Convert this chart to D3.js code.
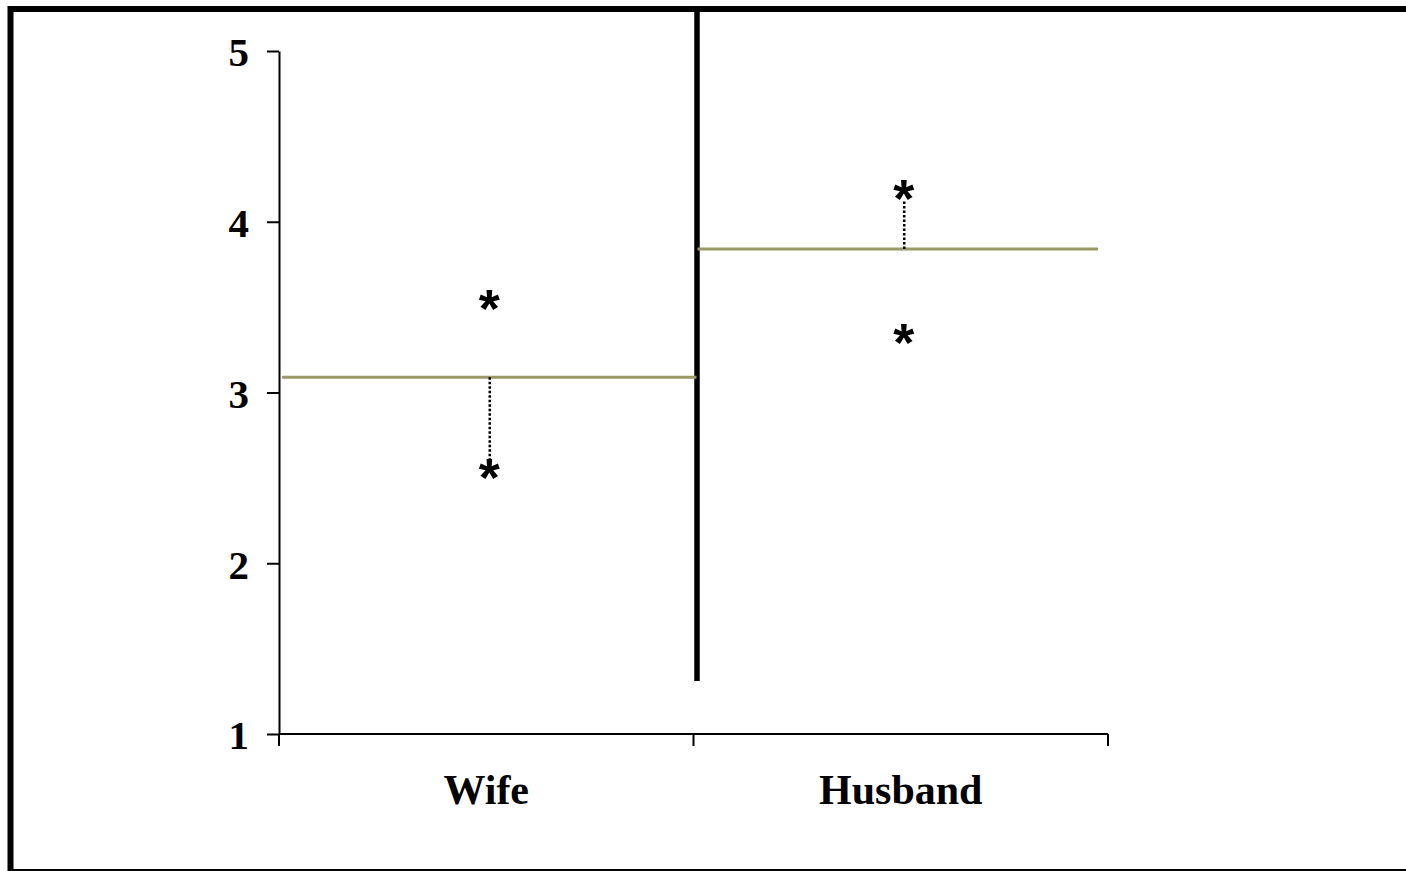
<!DOCTYPE html>
<html>
<head>
<meta charset="utf-8">
<script src="https://cdn.jsdelivr.net/npm/d3@7"></script>
<style>
  body { margin: 0; background: #fff; }
  text { font-family: 'Liberation Serif', 'Times New Roman', serif; font-weight: bold; }
</style>
</head>
<body>
<div id="chart-area"></div>
<script>
    // data
    var categories = ['Wife', 'Husband'];
    var meanValues = [3.09, 3.84];
    var upperStars = [3.55, 4.19];
    var lowerStars = [2.56, 3.35];
    var dottedTo = [2.6, 4.12];   // dotted line runs from the mean to this value
    var yTicks = [1, 2, 3, 4, 5];
    var dividerBottom = 1.31;

    var width = 1406;
    var height = 871;
    var margin = { left: 279, right: 298, top: 51, bottom: 137 };

    var svg = d3.select('#chart-area')
        .append('svg')
        .attr('width', width)
        .attr('height', height);

    // outer frame, runs off the right and bottom edges
    svg.append('rect')
        .attr('x', 10.5)
        .attr('y', 9)
        .attr('width', 1600)
        .attr('height', 863)
        .attr('fill', 'none')
        .attr('stroke', '#000')
        .attr('stroke-width', 6);

    var xScale = d3.scaleBand()
        .domain(categories)
        .range([margin.left, width - margin.right]);

    var yScale = d3.scaleLinear()
        .domain([1, 5])
        .range([height - margin.bottom, margin.top]);

    var g = svg.append('g');

    // y axis
    var yAxisCall = d3.axisLeft(yScale)
        .tickValues(yTicks)
        .tickSize(12)
        .tickSizeOuter(0)
        .tickPadding(18)
        .tickFormat(d3.format('d'));
    var yAxis = g.append('g')
        .attr('class', 'y axis')
        .attr('transform', `translate(${margin.left},0)`)
        .call(yAxisCall);
    yAxis.select('.domain').attr('stroke-width', 2);
    yAxis.selectAll('.tick line').attr('stroke-width', 2);
    yAxis.selectAll('.tick text')
        .attr('font-size', '41px')
        .attr('font-family', 'Liberation Serif')
        .attr('font-weight', 'bold')
        .attr('fill', '#000')
        .attr('dy', '0.36em');

    // x axis: ticks at band edges
    var xAxis = g.append('g')
        .attr('class', 'x axis')
        .attr('transform', `translate(0,${yScale(1)})`);
    xAxis.append('line')
        .attr('x1', xScale.range()[0])
        .attr('x2', xScale.range()[1])
        .attr('stroke', '#000')
        .attr('stroke-width', 2);
    var edges = categories.map((c) => xScale(c)).concat([xScale.range()[1]]);
    xAxis.selectAll('.edge')
        .data(edges)
        .enter()
        .append('line')
        .attr('class', 'edge')
        .attr('x1', (d) => d)
        .attr('x2', (d) => d)
        .attr('y1', 0)
        .attr('y2', 12)
        .attr('stroke', '#000')
        .attr('stroke-width', 2);
    xAxis.selectAll('.label')
        .data(categories)
        .enter()
        .append('text')
        .attr('class', 'label')
        .attr('x', (d) => xScale(d) + xScale.bandwidth() / 2)
        .attr('y', 70)
        .attr('text-anchor', 'middle')
        .attr('font-size', '42px')
        .text((d) => d);

    // thick divider between the two groups
    g.append('line')
        .attr('x1', xScale('Husband') + 3.5)
        .attr('x2', xScale('Husband') + 3.5)
        .attr('y1', 9)
        .attr('y2', yScale(dividerBottom))
        .attr('stroke', '#000')
        .attr('stroke-width', 5.5);

    // mean lines
    g.selectAll('.mean')
        .data(categories)
        .enter()
        .append('line')
        .attr('class', 'mean')
        .attr('x1', (d, i) => i === 0 ? xScale(d) + 3 : xScale(d) + 4)
        .attr('x2', (d, i) => i === 0 ? xScale(d) + xScale.bandwidth() + 3 : xScale(d) + xScale.bandwidth() - 10)
        .attr('y1', (d, i) => yScale(meanValues[i]))
        .attr('y2', (d, i) => yScale(meanValues[i]))
        .attr('stroke', '#999966')
        .attr('stroke-width', 3);

    // dotted connectors
    g.selectAll('.dots')
        .data(categories)
        .enter()
        .append('line')
        .attr('class', 'dots')
        .attr('x1', (d) => xScale(d) + xScale.bandwidth() / 2 + 3.5)
        .attr('x2', (d) => xScale(d) + xScale.bandwidth() / 2 + 3.5)
        .attr('y1', (d, i) => yScale(meanValues[i]))
        .attr('y2', (d, i) => yScale(dottedTo[i]))
        .attr('stroke', '#000')
        .attr('stroke-width', 2.5)
        .attr('stroke-dasharray', '2.5,2');

    // asterisks
    var stars = [];
    categories.forEach((c, i) => {
        stars.push({ cat: c, value: upperStars[i] });
        stars.push({ cat: c, value: lowerStars[i] });
    });
    g.selectAll('.star')
        .data(stars)
        .enter()
        .append('text')
        .attr('class', 'star')
        .attr('x', (d) => xScale(d.cat) + xScale.bandwidth() / 2 + 3)
        .attr('y', (d) => yScale(d.value) + 28)
        .attr('text-anchor', 'middle')
        .attr('font-size', '54px')
        .style('font-family', 'Liberation Sans')
        .text('*');
</script>
</body>
</html>
